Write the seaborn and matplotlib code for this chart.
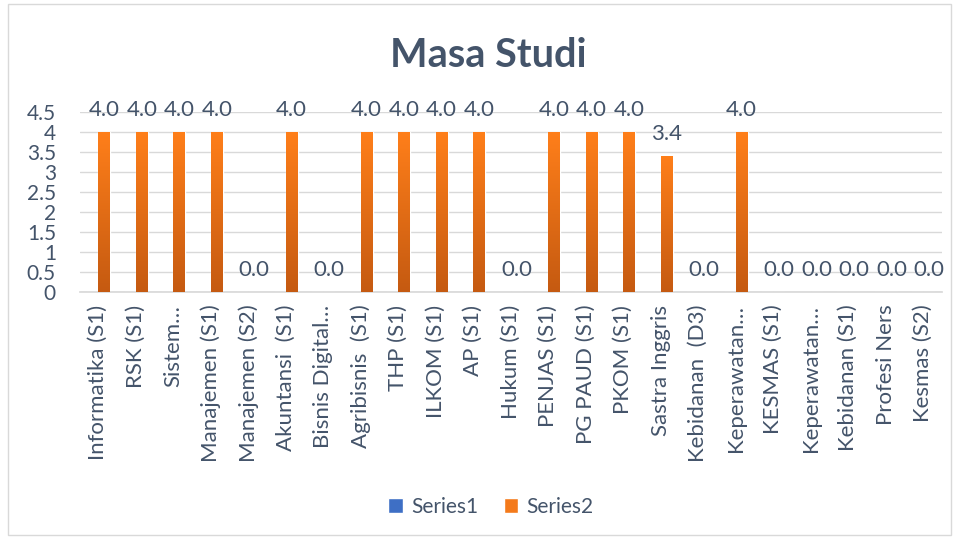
import numpy as np
import pandas as pd
import seaborn as sns
from matplotlib import pyplot as plt
from matplotlib.colors import LinearSegmentedColormap
from matplotlib.patches import Rectangle, Patch

prodi = ["Informatika (S1)", "RSK (S1)", "Sistem…", "Manajemen (S1)", "Manajemen (S2)",
         "Akuntansi  (S1)", "Bisnis Digital…", "Agribisnis  (S1)", "THP (S1)", "ILKOM (S1)",
         "AP (S1)", "Hukum (S1)", "PENJAS (S1)", "PG PAUD (S1)", "PKOM (S1)",
         "Sastra Inggris", "Kebidanan  (D3)", "Keperawatan…", "KESMAS (S1)", "Keperawatan…",
         "Kebidanan (S1)", "Profesi Ners", "Kesmas (S2)"]
series1 = [0, 0, 0, 0, 0, 0, 0, 0, 0, 0, 0, 0, 0, 0, 0, 0, 0, 0, 0, 0, 0, 0, 0]
series2 = [4.0, 4.0, 4.0, 4.0, 0.0, 4.0, 0.0, 4.0, 4.0, 4.0, 4.0, 0.0, 4.0, 4.0, 4.0,
           3.4, 0.0, 4.0, 0.0, 0.0, 0.0, 0.0, 0.0]
yticks = [0, 0.5, 1, 1.5, 2, 2.5, 3, 3.5, 4, 4.5]

text_col = "#44546A"
grid_col = "#D9D9D9"
blue = "#3E6FC5"
orange = "#F47A1B"

# unique x keys so the repeated "Keperawatan…" label stays two slots
keys = [f"{i}" for i in range(len(prodi))]
df = pd.DataFrame({
    "key": keys * 2,
    "value": series1 + series2,
    "series": ["Series1"] * len(prodi) + ["Series2"] * len(prodi),
})

sns.set_theme(style="white")
plt.rcParams["font.family"] = ["Lato", "DejaVu Sans"]

fig = plt.figure(figsize=(9.59, 5.41), dpi=100)
ax = fig.add_axes([0.083, 0.46, 0.899, 0.333])
sns.barplot(data=df, x="key", y="value", hue="series", palette=[blue, orange],
            width=0.64, ax=ax, legend=False, saturation=1)

# gradient fill like the office chart
cmap_o = LinearSegmentedColormap.from_list("o", ["#C55A11", "#FF7F1A"])
cmap_b = LinearSegmentedColormap.from_list("b", ["#2F5597", "#4A7BD0"])
grad = np.linspace(0, 1, 256).reshape(-1, 1)
xl = ax.get_xlim()
for cont, cm in zip(ax.containers, [cmap_b, cmap_o]):
    for p in cont.patches:
        h = p.get_height()
        if h <= 0:
            continue
        x0 = p.get_x()
        im = ax.imshow(grad, extent=[x0, x0 + p.get_width(), 0, h], origin="lower",
                       aspect="auto", cmap=cm, zorder=3)
        im.set_clip_path(p)
ax.set_xlim(xl)
ax.set_ylim(0, 4.5)

ax.bar_label(ax.containers[1], fmt="%.1f", padding=9, fontsize=16, color=text_col)

ax.set_yticks(yticks)
ax.set_yticklabels([f"{v:g}" for v in yticks])
ax.set_xticks(range(len(prodi)))
ax.set_xticklabels(prodi, rotation=90)
ax.tick_params(axis="y", length=0, pad=17, labelsize=15, labelcolor=text_col)
ax.tick_params(axis="x", length=0, pad=9, labelsize=16, labelcolor=text_col)
ax.set_xlabel("")
ax.set_ylabel("")
ax.yaxis.grid(True, color=grid_col, lw=1)
ax.set_axisbelow(True)
for s in ["top", "right", "left"]:
    ax.spines[s].set_visible(False)
ax.spines["bottom"].set_color(grid_col)

fig.text(0.509, 0.898, "Masa Studi", ha="center", va="center", fontsize=28.5,
         fontweight="bold", color=text_col)

handles = [Patch(facecolor=blue, label="Series1"), Patch(facecolor=orange, label="Series2")]
fig.legend(handles=handles, loc="center", bbox_to_anchor=(0.512, 0.063), ncol=2,
           frameon=False, handlelength=0.7, handleheight=0.7, fontsize=15,
           labelcolor=text_col, columnspacing=1.2, handletextpad=0.4)

fig.patches.append(Rectangle((0.008, 0.012), 0.984, 0.98, transform=fig.transFigure,
                             fill=False, edgecolor=grid_col, lw=1))

fig.savefig("out.png", dpi=100)
